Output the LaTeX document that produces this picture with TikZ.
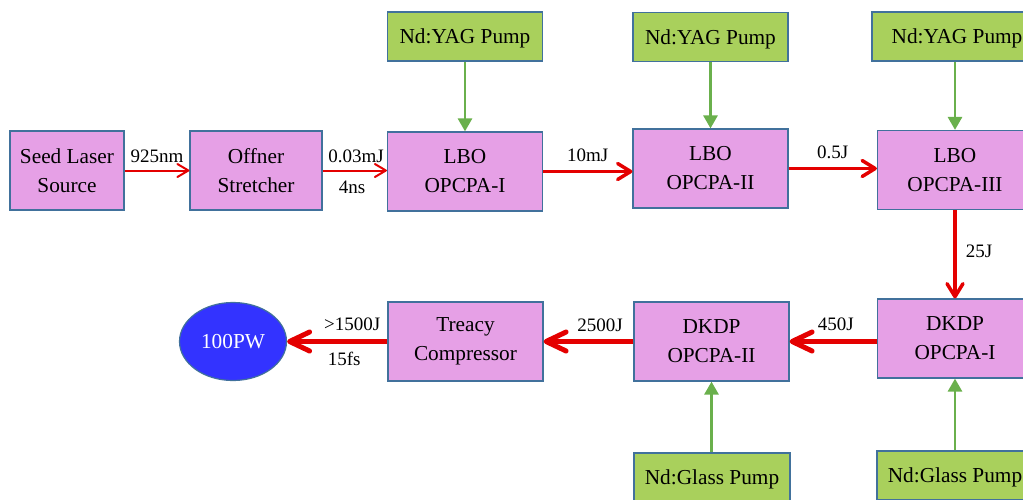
\documentclass[tikz,border=0pt]{standalone}
\usepackage{fontspec}
\setmainfont{Liberation Serif}
\usetikzlibrary{arrows.meta,shapes.geometric}

\definecolor{stagefill}{RGB}{230,160,230}
\definecolor{pumpfill}{RGB}{169,208,92}
\definecolor{boxline}{RGB}{65,113,156}
\definecolor{beamred}{RGB}{228,0,0}
\definecolor{pumpgreen}{RGB}{106,176,76}
\definecolor{pwblue}{RGB}{51,51,255}

\tikzset{
  stage/.style={draw=boxline, fill=stagefill, line width=1.2pt, minimum width=155pt, minimum height=79pt, inner sep=0pt, align=center, font=\fontsize{21.3}{29}\selectfont},
  pumpbox/.style={stage, fill=pumpfill, minimum height=49pt, text depth=0pt},
  tag/.style={inner sep=0pt, font=\fontsize{19}{22}\selectfont},
  seedbeam/.style={draw=beamred, line width=2pt, -{Straight Barb[length=11pt, width=13pt, round]}},
  midbeam/.style={draw=beamred, line width=3.5pt, -{Straight Barb[length=13pt, width=16pt, round]}},
  bigbeam/.style={draw=beamred, line width=5pt, -{Straight Barb[length=20pt, width=19pt, round]}},
  feed/.style={draw=pumpgreen, line width=2.8pt, -{Triangle[length=13pt, width=14pt]}},
}

\begin{document}
\begin{tikzpicture}[x=1pt, y=-1pt]
	\clip (0,0) rectangle (1023,499);

	% front end and LBO stages
	\node[stage, minimum width=114pt] (seed) at (67,170.5) {Seed Laser\\Source};
	\node[stage, minimum width=132pt] (stretcher) at (256,170.5) {Offner\\Stretcher};
	\node[stage] (lboA) at (465,171.5) {LBO\\OPCPA-I};
	\node[stage] (lboB) at (710.5,168.5) {LBO\\OPCPA-II};
	\node[stage] (lboC) at (955,170) {LBO\\OPCPA-III};

	\node[pumpbox] (pumpA) at (465,36.5) {Nd:YAG Pump};
	\node[pumpbox] (pumpB) at (710.5,37) {Nd:YAG Pump};
	\node[pumpbox, minimum width=170pt] (pumpC) at (957,36.5) {Nd:YAG Pump};

	% DKDP stages and compressor
	\node[stage] (dkdpA) at (955,338.5) {DKDP\\OPCPA-I};
	\node[stage] (dkdpB) at (711.5,341.5) {DKDP\\OPCPA-II};
	\node[stage] (treacy) at (465.5,341.5) {Treacy\\Compressor};
	\node[ellipse, draw=boxline, line width=1.2pt, fill=pwblue, minimum width=107pt, minimum height=78pt, text=white, font=\fontsize{21.3}{24}\selectfont] (pw) at (233,341.5) {100PW};

	\node[pumpbox, minimum width=156pt] (glassA) at (712,477.5) {Nd:Glass Pump};
	\node[pumpbox, minimum width=156pt] (glassB) at (955,475.5) {Nd:Glass Pump};

	\draw[seedbeam] (seed) -- node[tag, above=6.5pt] (wave) {925nm} (stretcher);
	\draw[seedbeam] (stretcher.east) -- node[tag, above=6.5pt, pos=.52] (energyA) {0.03mJ} node[tag, below=9.5pt, pos=.46] (widthA) {4ns} (stretcher.east -| lboA.west);
	\draw[midbeam] (lboA.east) -- node[tag, above=8pt] (energyB) {10mJ} (lboA.east -| lboB.west);
	\draw[midbeam] (lboB.east) -- node[tag, above=7.5pt] (energyC) {0.5J} (lboB.east -| lboC.west);
	\draw[midbeam] (lboC) -- node[tag, right=9pt, pos=.47] (energyD) {25J} (dkdpA);
	\draw[bigbeam] (dkdpA.west |- dkdpB) -- node[tag, above=8pt, pos=.47] (energyE) {450J} (dkdpB.east);
	\draw[bigbeam] (dkdpB) -- node[tag, above=7.5pt, pos=.37] (energyF) {2500J} (treacy);
	\draw[bigbeam] (treacy) -- node[tag, above=8.5pt, pos=.35] (energyG) {>1500J} node[tag, below=8.5pt, pos=.43] (widthB) {15fs} (pw);

	\foreach \src/\dst in {pumpA/lboA, pumpB/lboB, pumpC/lboC}
		\draw[feed] (\src.south -| \dst) -- (\dst);
	\foreach \src/\dst in {glassA/dkdpB, glassB/dkdpA}
		\draw[feed] (\src.north -| \dst) -- (\dst);
\end{tikzpicture}
\end{document}
